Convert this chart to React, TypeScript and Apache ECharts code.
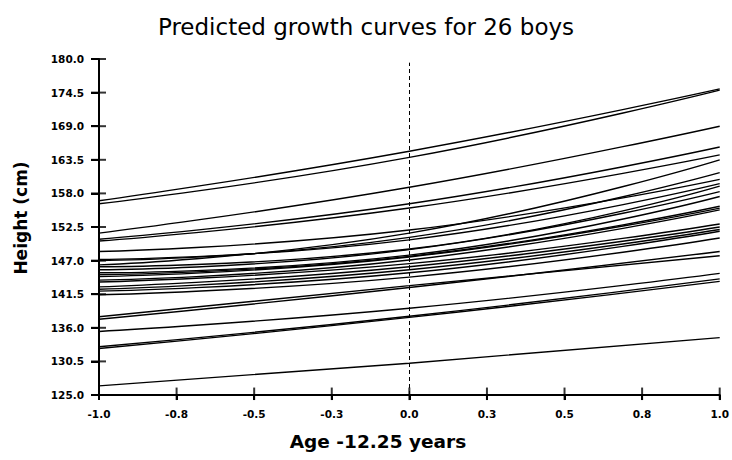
import React, { useEffect, useRef } from "react";
import * as echarts from "echarts";

// Ages (centred: age - 12.25 years) at which heights were read
const ages = [-1, 0, 1];

// Predicted heights (cm) for each of the 26 boys at age -1, 0, +1
const heightAtMinus1 = [
  156.8, 156.3, 151.5, 150.5, 150.2, 148.5, 146.3, 147.2, 147.0, 146.0,
  145.5, 145.0, 144.7, 144.4, 143.8, 143.5, 142.7, 142.3, 142.0, 141.4,
  137.4, 137.8, 135.4, 132.9, 132.6, 126.5,
];
const heightAt0 = [
  164.9, 163.9, 159.0, 156.3, 155.6, 152.0, 151.5, 150.4, 150.8, 148.9,
  148.8, 147.9, 147.7, 147.6, 147.1, 146.5, 146.0, 145.5, 145.0, 144.3,
  142.6, 142.9, 139.2, 137.9, 137.7, 130.2,
];
const heightAtPlus1 = [
  175.1, 174.9, 169.0, 165.6, 164.3, 160.3, 163.5, 159.6, 161.4, 159.2,
  158.3, 157.5, 155.9, 155.6, 155.3, 153.0, 152.5, 152.1, 151.8, 150.7,
  148.5, 147.8, 144.9, 144.0, 143.6, 134.4,
];

// Axis settings and tick values
const yMin = 125.0;
const yMax = 180.0;
const yStep = 5.5;
const xMin = -1.0;
const xMax = 1.0;
const xStep = 0.25;
const yTickValues = [125.0, 130.5, 136.0, 141.5, 147.0, 152.5, 158.0, 163.5, 169.0, 174.5, 180.0];
const xTickValues = [-1, -0.75, -0.5, -0.25, 0, 0.25, 0.5, 0.75, 1];
const refLineX = 0;
const refLineTop = 179.4;

const titleText = "Predicted growth curves for 26 boys";
const xTitle = "Age -12.25 years";
const yTitle = "Height (cm)";

export default function App() {
  const ref = useRef<HTMLDivElement>(null);

  useEffect(() => {
    if (!ref.current) return;
    const chart = echarts.init(ref.current, undefined, { renderer: "svg" });

    const boyData = heightAtMinus1.map((_, i) =>
      ages.map((a, k) => [
        a,
        [heightAtMinus1[i], heightAt0[i], heightAtPlus1[i]][k] - yMin,
      ])
    );

    const series: any[] = boyData.map((data, i) => ({
      type: "line",
      smooth: true,
      symbol: "none",
      silent: true,
      lineStyle: { color: "#000", width: 1.4 },
      data,
      markLine:
        i === 0
          ? {
              silent: true,
              symbol: ["none", "none"],
              label: { show: false },
              lineStyle: { type: [4, 3], color: "#000", width: 1 },
              data: [
                [
                  { coord: [refLineX, 0] },
                  { coord: [refLineX, refLineTop - yMin] },
                ],
              ],
            }
          : undefined,
    }));

    // crossing tick marks on both axes
    series.push(
      {
        type: "scatter",
        silent: true,
        clip: false,
        z: 5,
        symbol: "rect",
        symbolSize: [15, 2],
        symbolOffset: [-0.5, 0],
        itemStyle: { color: "#000" },
        data: yTickValues.map((v) => [xMin, v - yMin]),
      },
      {
        type: "scatter",
        silent: true,
        clip: false,
        z: 5,
        symbol: "rect",
        symbolSize: [2, 12.5],
        symbolOffset: [0, -1.2],
        itemStyle: { color: "#000" },
        data: xTickValues.map((v) => [v, 0]),
      }
    );

    const labelFont = {
      fontFamily: "DejaVu Sans",
      fontSize: 10.5,
      fontWeight: "bold",
      color: "#000",
    };

    chart.setOption({
      animation: false,
      title: {
        text: titleText,
        left: "center",
        top: 10,
        textStyle: {
          fontFamily: "DejaVu Sans",
          fontSize: 23,
          fontWeight: "normal",
          color: "#000",
        },
      },
      grid: { left: 99, right: 10, top: 59, bottom: 65 },
      xAxis: {
        type: "value",
        min: xMin,
        max: xMax,
        interval: xStep,
        position: "bottom",
        axisLine: { show: true, onZero: false, lineStyle: { color: "#000", width: 2 } },
        axisTick: { show: true, length: 5, lineStyle: { color: "#000", width: 2 } },
        axisLabel: {
          ...labelFont,
          margin: 13,
          formatter: (v: number) => v.toFixed(1),
        },
        splitLine: { show: false },
      },
      yAxis: {
        type: "value",
        min: 0,
        max: yMax - yMin,
        interval: yStep,
        position: "left",
        axisLine: { show: true, onZero: false, lineStyle: { color: "#000", width: 2 } },
        axisTick: { show: true, length: 8, lineStyle: { color: "#000", width: 2 } },
        axisLabel: {
          ...labelFont,
          margin: 15,
          formatter: (v: number) => (v + yMin).toFixed(1),
        },
        splitLine: { show: false },
      },
      graphic: [
        {
          type: "text",
          x: 21,
          y: 218,
          rotation: Math.PI / 2,
          style: {
            text: yTitle,
            align: "center",
            verticalAlign: "middle",
            font: 'bold 17px "DejaVu Sans"',
            fill: "#000",
          },
        },
        {
          type: "text",
          x: 378,
          y: 441,
          style: {
            text: xTitle,
            align: "center",
            verticalAlign: "middle",
            font: 'bold 18.5px "DejaVu Sans"',
            fill: "#000",
          },
        },
      ],
      series,
    });

    return () => chart.dispose();
  }, []);

  return (
    <div
      ref={ref}
      style={{
        position: "fixed",
        left: 0,
        top: 0,
        width: 732,
        height: 460,
        background: "#fff",
      }}
    />
  );
}
